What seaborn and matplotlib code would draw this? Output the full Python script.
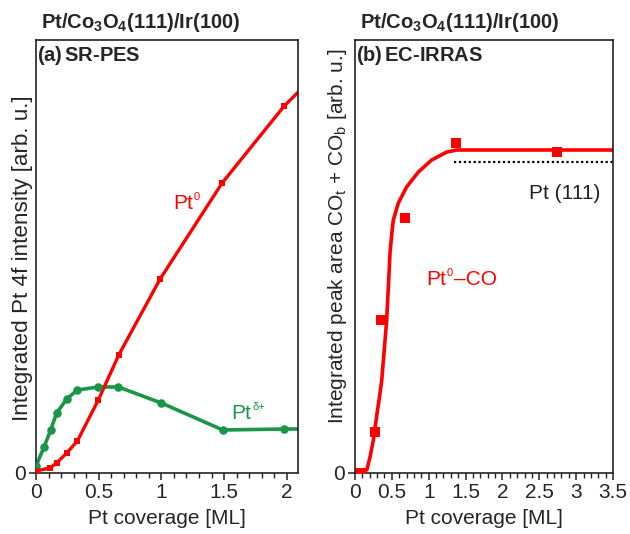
import matplotlib
matplotlib.use("Agg")
import matplotlib.pyplot as plt
from matplotlib.ticker import MultipleLocator
import seaborn as sns

# panel (a): SR-PES, Pt 4f intensities
cov_green = [0, 0.064, 0.117, 0.165, 0.245, 0.33, 0.497, 0.657, 1.0, 1.49, 1.98]
int_green = [7, 26, 43, 60, 74, 83, 86, 86, 70, 43, 44]
cov_red = [0, 0.11, 0.165, 0.245, 0.33, 0.497, 0.66, 0.99, 1.485, 1.98]
int_red = [2, 5, 10, 20, 32, 73, 118, 194, 290, 367]
# where the lines leave the right edge of the frame
tail_green = (2.1, 44)
tail_red = (2.1, 382)

# panel (b): EC-IRRAS, integrated CO peak area
sq_x = [0.08, 0.272, 0.357, 0.683, 1.368, 2.745]
sq_y = [0, 41, 153, 255, 330, 321]
fit_x = [0, 0.16, 0.204, 0.249, 0.30, 0.34, 0.363, 0.408, 0.43, 0.475,
         0.50, 0.52, 0.588, 0.70, 0.86, 1.04, 1.246, 1.38, 3.5]
fit_y = [2, 3, 16, 33, 60, 80, 93, 133, 153, 220,
         240, 253, 270, 286, 301, 313, 321, 323, 323]
pt111_x = [1.34, 3.5]
pt111_y = [311, 311]

RED = "#ff0000"
GREEN = "#1a9648"

sns.set_theme(style="ticks")
plt.rcParams["font.family"] = ["Liberation Sans", "DejaVu Sans"]
plt.rcParams["mathtext.fontset"] = "custom"
plt.rcParams["mathtext.rm"] = "Liberation Sans"
plt.rcParams["mathtext.it"] = "Liberation Sans"
plt.rcParams["mathtext.bf"] = "Liberation Sans:bold"

fig = plt.figure(figsize=(6.3, 5.34), dpi=100)
ax1 = fig.add_axes([36 / 630, 61 / 534, 262 / 630, 433 / 534])
ax2 = fig.add_axes([355 / 630, 61 / 534, 258 / 630, 433 / 534])


def sup_label(ax, x, y, base, sup, color, after=None):
    # "Pt" with a small raised mark right after it
    t = ax.text(x, y, base, color=color, fontsize=15, va="baseline")
    s = ax.annotate(sup, xy=(1, 1), xycoords=t, xytext=(0.5, 1.5),
                    textcoords="offset points", ha="left", va="top",
                    color=color, fontsize=8)
    if after:
        ax.annotate(after, xy=(1, 0), xycoords=(s, t), xytext=(0.5, 0),
                    textcoords="offset points", ha="left", va="bottom",
                    color=color, fontsize=15)


# --- panel a
sns.lineplot(x=cov_green + [tail_green[0]], y=int_green + [tail_green[1]],
             sort=False, estimator=None, color=GREEN, lw=2.6, ax=ax1)
sns.scatterplot(x=cov_green, y=int_green, color=GREEN, marker="o", s=38,
                linewidth=0, ax=ax1, zorder=3)
sns.lineplot(x=cov_red + [tail_red[0]], y=int_red + [tail_red[1]],
             sort=False, estimator=None, color=RED, lw=2.4, ax=ax1)
sns.scatterplot(x=cov_red, y=int_red, color=RED, marker="s", s=18,
                linewidth=0, ax=ax1, zorder=4)
sup_label(ax1, 1.096, 264, "Pt", "0", RED)
sup_label(ax1, 1.56, 54, "Pt", "δ+", GREEN)
ax1.set_xlim(0, 2.09)
ax1.set_ylim(0, 433)
ax1.set_xticks([0, 0.5, 1, 1.5, 2])
ax1.set_xticklabels(["0", "0.5", "1", "1.5", "2"])
ax1.xaxis.set_minor_locator(MultipleLocator(0.1))
ax1.set_ylabel("Integrated Pt 4f intensity [arb. u.]", fontsize=16.2)
ax1.yaxis.set_label_coords(-0.012, 0.495)
ax1.text(0.004, 0.965, r"(a)$\,$SR-PES", transform=ax1.transAxes,
         fontsize=14.5, fontweight="bold", va="center")

# --- panel b
sns.lineplot(x=pt111_x, y=pt111_y, color="black", lw=1.6, ax=ax2,
             linestyle=(0, (1, 1.2)))
sns.lineplot(x=fit_x, y=fit_y, sort=False, estimator=None, color=RED,
             lw=2.6, ax=ax2)
sns.scatterplot(x=sq_x, y=sq_y, color=RED, marker="s", s=45, linewidth=0,
                ax=ax2, zorder=4)
sup_label(ax2, 0.965, 188, "Pt", "0", RED, after="–CO")
ax2.text(2.355, 274, "Pt (111)", color="#222222", fontsize=15, va="baseline")
ax2.set_xlim(0, 3.5)
ax2.set_ylim(0, 433)
ax2.set_xticks([0, 0.5, 1, 1.5, 2, 2.5, 3, 3.5])
ax2.set_xticklabels(["0", "0.5", "1", "1.5", "2", "2.5", "3", "3.5"])
ax2.xaxis.set_minor_locator(MultipleLocator(0.1))
ax2.set_ylabel("Integrated peak area CO$_\\mathregular{t}$ + CO$_\\mathregular{b}$ [arb. u.]",
               fontsize=15)
ax2.yaxis.set_label_coords(-0.024, 0.548)
ax2.text(0.004, 0.965, r"(b)$\,$EC-IRRAS", transform=ax2.transAxes,
         fontsize=14.5, fontweight="bold", va="center")

for ax in (ax1, ax2):
    ax.set_yticks([0])
    ax.set_yticklabels(["0"])
    ax.set_xlabel("Pt coverage [ML]", fontsize=15, labelpad=5)
    ax.tick_params(axis="both", which="major", direction="out", length=5,
                   width=1.1, labelsize=15, pad=2, color="#222222")
    ax.tick_params(axis="x", which="minor", direction="out", length=3.5,
                   width=1.0, color="#222222")
    for sp in ax.spines.values():
        sp.set_visible(True)
        sp.set_linewidth(1.2)
        sp.set_color("#222222")

title = r"Pt/Co$_\mathbf{3}$O$_\mathbf{4}$(111)/Ir(100)"
fig.text(41 / 630, 1 - 23 / 534, title, fontsize=14.5, fontweight="bold",
         va="center", ha="left")
fig.text(360 / 630, 1 - 23 / 534, title, fontsize=14.5, fontweight="bold",
         va="center", ha="left")

fig.savefig("out.png", dpi=100)
